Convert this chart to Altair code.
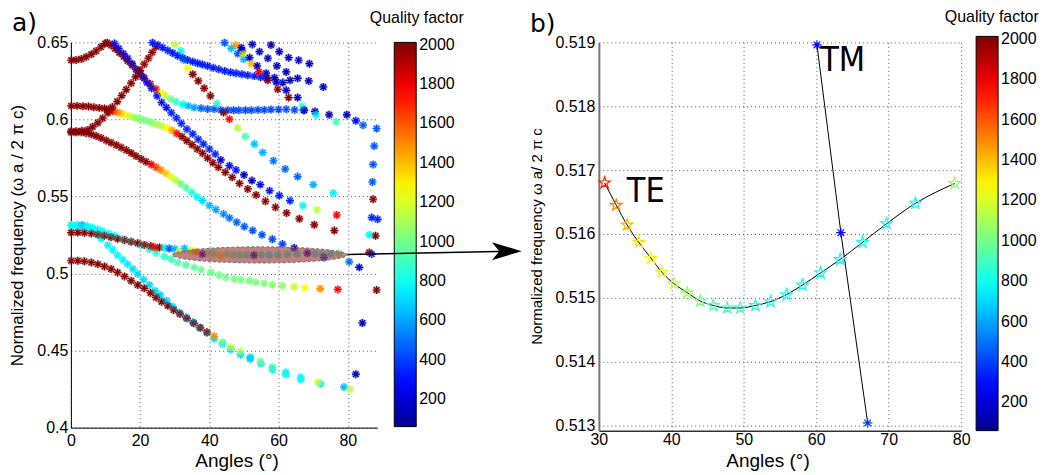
import altair as alt
import numpy as np
import pandas as pd

# ---------------- colour scale (jet) ----------------
Q_STOPS = [60, 274.7, 772.5, 1270.2, 1764.1, 2012]
JET = ["#00008f", "#0000ff", "#00ffff", "#ffff00", "#ff0000", "#800000"]
CBAR_TICKS = [200, 400, 600, 800, 1000, 1200, 1400, 1600, 1800, 2000]

# ---------------- panel a: band branches (angle, frequency, Q) ----------------
r1_x = [0.1, 1.5, 3.0, 4.4, 5.9, 7.3, 8.7, 9.9]
r1_y = [0.6384, 0.6386, 0.6392, 0.6405, 0.6423, 0.6444, 0.6470, 0.6492]
r1_q = [2000] * 8

r2_x = [10.5, 11.6, 12.8, 14.0, 15.3, 16.4, 17.7, 18.8, 20.0, 21.2,
        22.9, 24.6, 26.0, 27.3, 28.9, 30.4, 32.3, 33.9, 35.6, 37.6,
        39.5, 41.4, 43.3, 45.3, 47.0, 48.5, 50.4, 52.1, 54.0, 55.9,
        57.8, 60.0, 62.2, 64.6, 67.2, 70.5, 74.6, 79.7, 82.3, 84.4]
r2_y = [0.6498, 0.6481, 0.6459, 0.6433, 0.6407, 0.6379, 0.6351, 0.6325, 0.6297, 0.6267,
        0.6230, 0.6196, 0.6174, 0.6153, 0.6131, 0.6114, 0.6099, 0.6088, 0.6077, 0.6073,
        0.6067, 0.6067, 0.6062, 0.6060, 0.6060, 0.6060, 0.6060, 0.6060, 0.6062, 0.6062,
        0.6064, 0.6064, 0.6066, 0.6062, 0.6060, 0.6052, 0.6030, 0.6030, 0.5991, 0.5963]
r2_q = [2000] * 10 + [1900, 1760, 1270, 1140, 980, 880, 780, 640, 600, 470,
                      450, 440, 430, 420, 420, 420, 420, 420, 420, 420,
                      420, 420, 420, 420, 420, 150, 150, 150, 300, 450]

b1_x = [12.6, 13.8, 15.2, 16.4, 17.7, 19.3, 20.8, 22.0, 23.3, 24.9,
        26.2, 27.6, 29.0, 30.5, 31.9, 33.5, 35.2, 36.8, 38.3, 40.0,
        41.7, 43.3, 45.8, 47.7, 50.0, 52.3, 54.7, 57.4, 60.2, 63.3,
        67.0, 71.1, 76.8]
b1_y = [0.6492, 0.6461, 0.6427, 0.6397, 0.6362, 0.6319, 0.6276, 0.6239, 0.6203, 0.6153,
        0.6110, 0.6077, 0.6043, 0.6010, 0.5974, 0.5937, 0.5905, 0.5872, 0.5840, 0.5808,
        0.5775, 0.5737, 0.5700, 0.5672, 0.5640, 0.5603, 0.5577, 0.5538, 0.5506, 0.5473,
        0.5441, 0.5413, 0.5380]
b1_q = [300] * 12 + [350, 350, 350, 350, 350, 350, 350, 350,
                     350, 180, 300, 300, 180, 180, 300, 320, 330, 350,
                     780, 1150, 1780]

d1_x = [0.1, 1.8, 3.5, 5.1, 6.6, 8.2, 9.7, 10.9, 12.1, 13.4,
        14.5, 15.8, 17.0, 18.3, 19.5, 20.9, 22.2, 23.5, 24.9, 26.3,
        27.8, 29.2, 30.6, 32.1, 33.5, 35.0, 36.5, 38.0, 39.5, 41.0,
        42.6, 44.6, 46.6, 48.7, 51.1, 53.5, 56.2, 59.1, 62.3, 66.0,
        70.3, 76.1]
d1_y = [0.6088, 0.6088, 0.6086, 0.6084, 0.6079, 0.6075, 0.6071, 0.6064, 0.6055, 0.6047,
        0.6039, 0.6030, 0.6021, 0.6013, 0.6006, 0.5998, 0.5989, 0.5978, 0.5967, 0.5957,
        0.5944, 0.5929, 0.5909, 0.5888, 0.5862, 0.5836, 0.5808, 0.5780, 0.5749, 0.5719,
        0.5689, 0.5657, 0.5624, 0.5585, 0.5549, 0.5510, 0.5469, 0.5430, 0.5393, 0.5355,
        0.5316, 0.5279]
d1_q = [2000] * 8 + [1800, 1550, 1400, 1280, 1170, 1080, 1040, 1010, 1020, 1050,
                     1100, 1150, 1260, 1450, 1750] + [2000] * 19

d2_x = [0.1, 1.5, 3.0, 4.4, 5.9, 7.3, 8.7, 10.2, 11.6, 13.1,
        14.5, 16.0, 17.4, 18.8, 20.3, 21.7, 23.2, 24.6, 26.0, 27.5,
        28.9, 30.4, 31.8, 33.3, 34.9, 36.4, 38.0, 40.0, 41.9, 44.1,
        45.8, 47.9, 50.1, 52.5, 55.2, 58.2, 61.1, 64.5]
d2_y = [0.5916, 0.5916, 0.5916, 0.5911, 0.5903, 0.5892, 0.5879, 0.5864, 0.5849, 0.5834,
        0.5818, 0.5801, 0.5782, 0.5762, 0.5743, 0.5726, 0.5708, 0.5689, 0.5672, 0.5650,
        0.5629, 0.5603, 0.5581, 0.5555, 0.5527, 0.5499, 0.5473, 0.5441, 0.5415, 0.5387,
        0.5361, 0.5333, 0.5305, 0.5279, 0.5251, 0.5223, 0.5191, 0.5165]
d2_q = [2000] * 16 + [1800, 1650, 1500, 1380, 1200, 1120, 1000, 920, 850, 780,
                      700, 650, 600, 550, 500, 470, 450, 440, 430, 420, 400, 160]

r3_x = [0.1, 1.5, 3.2, 4.9, 6.3, 7.8, 9.2, 10.7, 12.0, 13.4,
        14.7, 16.0, 17.4, 18.7, 20.0, 21.2, 22.4, 23.5, 24.6]
r3_y = [0.5924, 0.5924, 0.5926, 0.5931, 0.5952, 0.5978, 0.6008, 0.6043, 0.6080, 0.6116,
        0.6155, 0.6194, 0.6235, 0.6276, 0.6317, 0.6358, 0.6397, 0.6435, 0.6472]
r3_q = [2000] * 19

d3_x = [30.1, 31.8, 32.6, 33.7, 35.2, 36.8, 38.5, 40.3, 42.2, 44.1,
        45.8, 48.2, 50.4, 53.0, 55.4, 58.5, 61.9, 65.5, 70.0, 75.8]
d3_y = [0.6487, 0.6444, 0.6385, 0.6332, 0.6293, 0.6250, 0.6202, 0.6153, 0.6103, 0.6045,
        0.6002, 0.5944, 0.5890, 0.5840, 0.5786, 0.5732, 0.5678, 0.5629, 0.5577, 0.5523]
d3_q = [1140, 780, 640, 1270, 2000, 2000, 2000, 2000, 870, 2000,
        1760, 1140, 920, 660, 620, 500, 480, 470, 620, 760]

u1_x = [23.6, 25.1, 26.5, 28.0, 29.4, 30.8, 32.3, 33.7, 35.2, 36.6,
        38.0, 39.5, 41.1, 42.7, 44.4, 46.1, 47.7, 49.4, 51.1, 53.0,
        54.8, 56.6, 61.2, 63.3, 65.5, 68.7, 72.9]
u1_y = [0.6498, 0.6483, 0.6466, 0.6448, 0.6431, 0.6414, 0.6399, 0.6386, 0.6375, 0.6364,
        0.6356, 0.6347, 0.6336, 0.6325, 0.6315, 0.6306, 0.6300, 0.6293, 0.6287, 0.6281,
        0.6274, 0.6266, 0.6239, 0.6254, 0.6267, 0.6250, 0.6211]
u1_q = [330] * 21 + [150] * 6

sc_x = [44.4, 47.6, 46.3, 49.2, 49.5, 48.2, 49.7, 49.9, 51.6, 52.1,
        52.4, 53.8, 54.5, 56.9, 57.8, 59.5, 60.2, 62.2, 62.9, 65.8,
        68.9, 54.3, 56.4, 56.9, 58.8, 59.3, 59.75, 62.2, 62.9, 65.5,
        66.8, 67.4, 70.8, 76.6, 88.3, 87.6, 87.3, 87.1, 87.3, 86.9,
        88.6, 88.0, 86.2, 86.2, 86.9, 80.4, 83.3, 88.3, 84.2, 82.3]
sc_y = [0.6498, 0.6483, 0.6461, 0.6466, 0.6444, 0.6427, 0.6423, 0.6390, 0.6401, 0.6362,
        0.6487, 0.6347, 0.6440, 0.6397, 0.6483, 0.6347, 0.6440, 0.6308, 0.6401, 0.6384,
        0.6362, 0.6308, 0.6300, 0.6254, 0.6271, 0.6243, 0.6196, 0.6189, 0.6142, 0.6142,
        0.6088, 0.6060, 0.6030, 0.5985, 0.5941, 0.5827, 0.5708, 0.5594, 0.5482, 0.5363,
        0.5352, 0.5245, 0.5252, 0.5137, 0.5126, 0.5076, 0.5040, 0.4893, 0.4679, 0.4347]
sc_q = [450, 1450, 640, 150, 150, 450, 1270, 640, 150, 1400,
        150, 150, 150, 150, 150, 150, 150, 150, 150, 150,
        150, 1800, 150, 2000, 150, 150, 2000, 150, 2000, 150,
        900, 150, 780, 900, 450, 450, 450, 450, 2000, 350,
        350, 2000, 760, 2000, 350, 500, 150, 2000, 150, 150]

c1_x = [0.2, 1.7, 3.2, 4.7, 6.1, 7.5, 8.7, 10.7, 12.1, 13.5,
        15.0, 16.4, 17.9, 19.3, 21.0, 22.7, 24.3, 25.8, 27.6, 29.4,
        31.3, 33.2, 35.2, 37.1, 39.3, 41.4, 43.8, 46.2, 49.0, 51.8,
        54.9, 58.2, 62.1, 66.4, 72.1, 78.9]
c1_y = [0.5315, 0.5315, 0.5313, 0.5305, 0.5290, 0.5258, 0.5227, 0.5184, 0.5154, 0.5119,
        0.5089, 0.5061, 0.5029, 0.4997, 0.4960, 0.4925, 0.4889, 0.4861, 0.4824, 0.4785,
        0.4748, 0.4716, 0.4684, 0.4649, 0.4615, 0.4576, 0.4543, 0.4507, 0.4475, 0.4446,
        0.4414, 0.4377, 0.4345, 0.4312, 0.4284, 0.4263]
c1_q = [780, 780, 450, 780, 780, 760, 760, 760, 760, 760,
        760, 740, 720, 700, 700, 700, 700, 700, 680, 680,
        660, 640, 640, 700, 700, 720, 740, 700, 680, 660,
        740, 760, 760, 760, 760, 640]

c2_x = [0.2, 1.7, 3.2, 4.7, 6.2, 7.7, 9.2, 10.9, 12.6, 15.0,
        17.4, 20.3, 22.7, 24.6, 27.0, 28.9, 30.8, 33.2, 35.6, 37.6,
        40.4, 42.8, 44.8, 47.2, 49.1, 51.5, 53.4, 55.8, 58.2, 61.1,
        64.5, 67.6, 72.0, 77.1]
c2_y = [0.5311, 0.5311, 0.5309, 0.5305, 0.5298, 0.5287, 0.5275, 0.5260, 0.5245, 0.5223,
        0.5206, 0.5184, 0.5158, 0.5133, 0.5111, 0.5094, 0.5072, 0.5055, 0.5040, 0.5025,
        0.5007, 0.4990, 0.4975, 0.4964, 0.4960, 0.4953, 0.4943, 0.4937, 0.4928, 0.4921,
        0.4914, 0.4908, 0.4902, 0.4897]
c2_q = [780] * 10 + [790, 800, 830, 860, 880, 900, 920, 940, 960, 980,
                     1000, 1000, 1000, 1010, 1010, 1010, 1020, 1030, 1040, 1060,
                     1150, 1270, 1480, 1760]

a1_x = [0.1, 2.0, 3.9, 5.9, 7.8, 9.7, 11.6, 13.5, 15.5, 17.4,
        19.3, 21.2, 23.0, 24.6, 26.2, 28.0, 29.7, 31.5, 33.5, 35.5,
        37.4, 39.3, 41.4, 43.8, 46.2, 48.9, 51.8, 54.7, 58.2, 62.1,
        66.4, 71.4, 80.6]
a1_y = [0.5083, 0.5083, 0.5079, 0.5072, 0.5061, 0.5046, 0.5029, 0.5007, 0.4981, 0.4953,
        0.4925, 0.4904, 0.4874, 0.4845, 0.4817, 0.4791, 0.4763, 0.4738, 0.4709, 0.4677,
        0.4648, 0.4619, 0.4593, 0.4554, 0.4522, 0.4494, 0.4457, 0.4429, 0.4392, 0.4360,
        0.4327, 0.4295, 0.4248]
a1_q = [2000] * 22 + [1500, 1000, 1140, 1120, 700, 1000, 900, 780, 780, 1180, 1120]

a2_x = [0.1, 2.0, 3.9, 5.9, 7.8, 9.7, 11.6, 13.5, 15.5, 17.4,
        19.3, 21.2, 23.1, 24.3, 25.6, 27.0, 28.4, 30.0, 31.4, 32.8,
        34.5, 36.1, 38.0, 40.0, 41.4, 43.3, 45.1, 46.9, 48.8, 50.8,
        52.9, 55.0, 57.3, 59.8, 62.5, 65.4, 68.3, 70.5, 72.6, 73.1,
        75.0, 77.4]
a2_y = [0.5266, 0.5266, 0.5264, 0.5260, 0.5253, 0.5245, 0.5236, 0.5225, 0.5217, 0.5206,
        0.5197, 0.5186, 0.5178, 0.5169, 0.5169, 0.5166, 0.5162, 0.5160, 0.5145, 0.5162,
        0.5150, 0.5141, 0.5126, 0.5130, 0.5130, 0.5115, 0.5126, 0.5122, 0.5122, 0.5122,
        0.5119, 0.5122, 0.5122, 0.5122, 0.5126, 0.5126, 0.5132, 0.5128, 0.5126, 0.5104,
        0.5128, 0.5132]
a2_q = [2000] * 13 + [1760, 2000, 780, 450, 640, 1270, 640, 1140, 1450, 150,
                      1000, 1000, 1350, 1000, 950, 900, 880, 150, 820, 800,
                      800, 800, 780, 150, 780, 790, 200, 800, 1000]

# highlighted region (ellipse centre / radii) and arrow, panel a -> panel b
ELL_CX, ELL_CY, ELL_RX, ELL_RY = 54.6, 0.5121, 25.2, 0.0052
ARROW_X = [-4.7, 18.0]
ARROW_Y = [0.51568, 0.51573]
HEAD_X = [17.3]
HEAD_Y = [0.51573]

# ---------------- panel b: zoomed TE / TM bands ----------------
te_x = [30.8, 32.4, 33.9, 35.5, 37.2, 38.7, 40.4, 42.2, 44.0, 45.8, 47.7,
        49.5, 51.6, 53.7, 55.9, 58.1, 60.6, 63.3, 66.4, 69.7, 73.7, 79.1]
te_y = [0.51680, 0.51645, 0.51614, 0.51587, 0.51562, 0.51540, 0.51522, 0.51508,
        0.51495, 0.51488, 0.51484, 0.51484, 0.51488, 0.51494, 0.51505, 0.51520,
        0.51539, 0.51560, 0.51587, 0.51616, 0.51648, 0.51679]
te_q = [1700, 1520, 1420, 1330, 1260, 1220, 1130, 1070, 1000, 930, 900,
        880, 850, 800, 790, 780, 780, 770, 780, 790, 800, 1050]
tm_x = [60.1, 63.4, 67.1]
tm_y = [0.51896, 0.51602, 0.51304]
tm_q = [250, 300, 380]

# ---------------- build tables ----------------
branches = [(r1_x, r1_y, r1_q), (r2_x, r2_y, r2_q), (b1_x, b1_y, b1_q),
            (d1_x, d1_y, d1_q), (d2_x, d2_y, d2_q), (r3_x, r3_y, r3_q),
            (d3_x, d3_y, d3_q), (u1_x, u1_y, u1_q), (sc_x, sc_y, sc_q),
            (c1_x, c1_y, c1_q), (c2_x, c2_y, c2_q), (a1_x, a1_y, a1_q),
            (a2_x, a2_y, a2_q)]
rows = []
for i, (bx, by, bq) in enumerate(branches):
    assert len(bx) == len(by) == len(bq), (i, len(bx), len(by), len(bq))
    rows += list(zip(bx, by, bq))
dfa = pd.DataFrame(rows, columns=["x", "y", "q"])

t = np.linspace(0, np.pi, 121)
ell = pd.DataFrame({"x": ELL_CX + ELL_RX * np.cos(t),
                    "y": ELL_CY + ELL_RY * np.sin(t),
                    "y2": ELL_CY - ELL_RY * np.sin(t)})

dte = pd.DataFrame({"x": te_x, "y": te_y, "q": te_q})
dtm = pd.DataFrame({"x": tm_x, "y": tm_y, "q": tm_q})
darrow = pd.DataFrame({"x": ARROW_X, "y": ARROW_Y})
dhead = pd.DataFrame({"x": HEAD_X, "y": HEAD_Y})
dlab = pd.DataFrame({"x": [33.86, 60.54], "y": [0.5165, 0.51855], "t": ["TE", "TM"]})

ASTER = "M-1,0L1,0M0,-1L0,1M-0.7,-0.7L0.7,0.7M-0.7,0.7L0.7,-0.7"
STAR = ("M0,-1L0.2245,-0.309L0.9511,-0.309L0.3633,0.118L0.5878,0.809L0,0.382"
        "L-0.5878,0.809L-0.3633,0.118L-0.9511,-0.309L-0.2245,-0.309Z")
HEAD = "M1,0L-1,-0.6L-0.5,0L-1,0.6Z"

FONT = "Liberation Sans"
GRID = dict(grid=True, gridDash=[1, 3], gridColor="#555", gridWidth=1, ticks=False,
            labelFlush=False, labelFontSize=16, labelColor="black", titleColor="black",
            labelFont=FONT, titleFont=FONT, titleFontWeight="normal")


def qcolor(lx, ly, length):
    return alt.Color("q:Q",
                     scale=alt.Scale(domain=Q_STOPS, range=JET, clamp=True, interpolate="rgb"),
                     title=None,
                     legend=alt.Legend(type="gradient", orient="none", legendX=lx, legendY=ly,
                                       direction="vertical", gradientOpacity=1,
                                       gradientLength=length, gradientThickness=22,
                                       gradientStrokeColor="black", gradientStrokeWidth=1,
                                       values=CBAR_TICKS, format="d", labelFontSize=16,
                                       labelFont=FONT, labelColor="black", labelOffset=3,
                                       labelOverlap=False, padding=0))


# ---------------- panel a ----------------
WA, HA = 307, 386
xa = alt.X("x:Q", scale=alt.Scale(domain=[0, 88.5], nice=False, zero=False),
           axis=alt.Axis(title="Angles (°)", values=[0, 20, 40, 60, 80], format="d",
                         domainColor="black", labelPadding=5, titleFontSize=19,
                         titleX=166, titleY=24, titleBaseline="top", titleAlign="center", **GRID))
ya = alt.Y("y:Q", scale=alt.Scale(domain=[0.4, 0.65], nice=False, zero=False),
           axis=alt.Axis(title="Normalized frequency (ω a / 2 π c)",
                         values=[0.4, 0.45, 0.5, 0.55, 0.6, 0.65], format=".2~f",
                         domainColor="black", labelPadding=3, titleFontSize=17,
                         titleX=-44, titleY=193, titleAngle=270, titleBaseline="bottom",
                         titleAlign="center", **GRID))
ca = qcolor(324, 0, 385)

# soft disc behind each marker: an unfilled circle whose wide stroke covers its centre,
# so that both layers feed the legend through the same (stroke) channel
halo = alt.Chart(dfa).mark_point(shape="circle", filled=False, size=16, strokeWidth=4,
                                 opacity=1, strokeOpacity=0.35).encode(x=xa, y=ya, color=ca)
pts = alt.Chart(dfa).mark_point(shape=ASTER, filled=False, size=64, strokeWidth=1.2,
                                opacity=1).encode(x=xa, y=ya, color=ca)
ellipse = alt.Chart(ell).mark_area(fill="#a03c3c", fillOpacity=0.65, stroke="#7a7a7a",
                                   strokeDash=[3, 2], strokeWidth=1.2).encode(
    x=xa, y=ya, y2="y2:Q")
lab_a = alt.Chart(pd.DataFrame({"t": ["a)"]})).mark_text(
    fontSize=25, font="DejaVu Sans", align="left", baseline="alphabetic", color="black").encode(
    x=alt.value(-59), y=alt.value(-11), text="t:N")
qf_a = alt.Chart(pd.DataFrame({"t": ["Quality factor"]})).mark_text(
    fontSize=16, font=FONT, align="center", baseline="alphabetic", color="black").encode(
    x=alt.value(346.5), y=alt.value(-19.7), text="t:N")

panel_a = alt.layer(pts, halo, ellipse, lab_a, qf_a).properties(width=WA, height=HA)

# ---------------- panel b ----------------
WB, HB = 363, 389
xb = alt.X("x:Q", scale=alt.Scale(domain=[30, 80], nice=False, zero=False),
           axis=alt.Axis(title="Angles (°)", values=[30, 40, 50, 60, 70, 80], format="d",
                         domainColor="#333", domainWidth=1.5, labelPadding=1, titleFontSize=19,
                         titleX=169, titleY=21, titleBaseline="top", titleAlign="center", **GRID))
yb = alt.Y("y:Q", scale=alt.Scale(domain=[0.51292, 0.519], nice=False, zero=False),
           axis=alt.Axis(title="Normalized frequency ω a/ 2 π c",
                         values=[0.513, 0.514, 0.515, 0.516, 0.517, 0.518, 0.519], format=".3f",
                         domainColor="#777", domainWidth=2, labelPadding=4, titleFontSize=15,
                         titleX=-54, titleY=194, titleAngle=270, titleBaseline="bottom",
                         titleAlign="center", **GRID))
cb = qcolor(378, -6, 395)

te_line = alt.Chart(dte).mark_line(color="black", strokeWidth=1, interpolate="monotone").encode(x=xb, y=yb)
tm_line = alt.Chart(dtm).mark_line(color="black", strokeWidth=1).encode(x=xb, y=yb)
te_pts = alt.Chart(dte).mark_point(shape=STAR, filled=False, size=150, strokeWidth=1.2,
                                   opacity=1).encode(x=xb, y=yb, color=cb)
tm_pts = alt.Chart(dtm).mark_point(shape=ASTER, filled=False, size=90, strokeWidth=1.2,
                                   opacity=1).encode(x=xb, y=yb, color=cb)
te_tm = alt.Chart(dlab).mark_text(fontSize=34, font="Liberation Sans Narrow, DejaVu Sans Condensed, Liberation Sans",
                                  align="left", baseline="alphabetic", color="black").encode(
    x=xb, y=yb, text="t:N")
arrow = alt.Chart(darrow).mark_line(color="black", strokeWidth=1.5, clip=False).encode(x=xb, y=yb)
head = alt.Chart(dhead).mark_point(shape=HEAD, filled=True, color="black", size=900, opacity=1,
                                   clip=False).encode(x=xb, y=yb)
lab_b = alt.Chart(pd.DataFrame({"t": ["b)"]})).mark_text(
    fontSize=25, font="DejaVu Sans", align="left", baseline="alphabetic", color="black").encode(
    x=alt.value(-69), y=alt.value(-10.7), text="t:N")
qf_b = alt.Chart(pd.DataFrame({"t": ["Quality factor"]})).mark_text(
    fontSize=16, font=FONT, align="center", baseline="alphabetic", color="black").encode(
    x=alt.value(393.7), y=alt.value(-20.4), text="t:N")

panel_b = alt.layer(te_line, tm_line, te_pts, tm_pts, te_tm, arrow, head, lab_b, qf_b).properties(
    width=WB, height=HB)

chart = alt.hconcat(panel_a, panel_b, spacing=222, bounds="flush").resolve_scale(
    color="independent").properties(
    padding={"left": 0, "top": 0, "right": 0, "bottom": 0}
).configure_view(strokeOpacity=0)

chart.save("out.html", embed_options={"renderer": "svg", "actions": False})
